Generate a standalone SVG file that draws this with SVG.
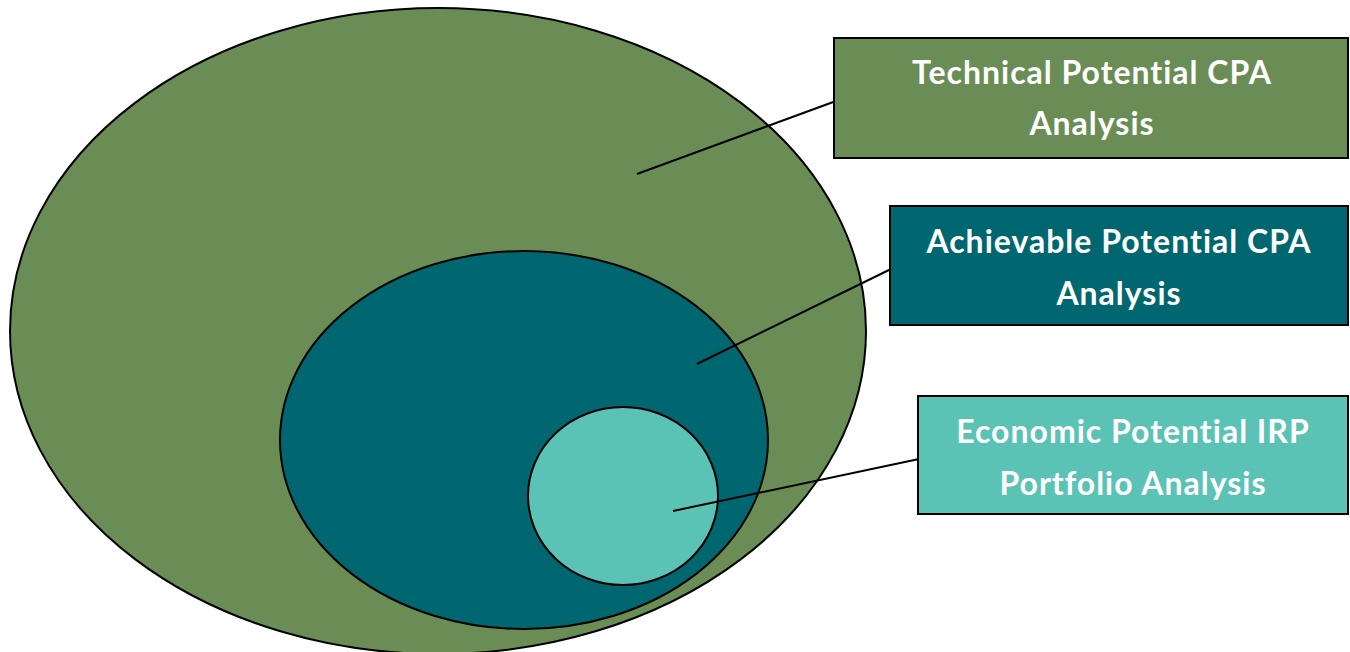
<svg xmlns="http://www.w3.org/2000/svg" width="1350" height="652" viewBox="0 0 1350 652">
<style>
.sh{stroke:#000;stroke-width:2}
.t{font-family:Lato,"Open Sans",sans-serif;font-weight:bold;font-size:32px;letter-spacing:1px;font-variant-ligatures:none;fill:#fff;text-anchor:middle}
.c{stroke:#000;stroke-width:2;fill:none}
.g{fill:#6A8D55}
.d{fill:#006670}
.l{fill:#5BC3B5}
</style>
<rect width="1350" height="652" fill="#fff"/>
<g id="technical-ellipse"><ellipse class="sh g" cx="438" cy="331" rx="428" ry="323"/></g>
<g id="achievable-ellipse"><ellipse class="sh d" cx="524" cy="440" rx="244" ry="189"/></g>
<g id="economic-ellipse"><ellipse class="sh l" cx="623" cy="496" rx="95" ry="89"/></g>
<g id="connectors">
<line class="c" x1="637" y1="174" x2="836" y2="101"/>
<line class="c" x1="697" y1="364" x2="891" y2="269"/>
<line class="c" x1="673" y1="511" x2="919" y2="459"/>
</g>
<g id="technical-box"><rect class="sh g" x="834" y="38" width="514" height="120"/>
<text class="t" x="1092" y="84">Technical Potential CPA</text><text class="t" x="1092" y="135">Analysis</text></g>
<g id="achievable-box"><rect class="sh d" x="890" y="206" width="458" height="119"/>
<text class="t" x="1119" y="253">Achievable Potential CPA</text><text class="t" x="1119" y="305">Analysis</text></g>
<g id="economic-box"><rect class="sh l" x="918" y="396" width="430" height="118"/>
<text class="t" x="1133" y="443">Economic Potential IRP</text><text class="t" x="1133" y="495">Portfolio Analysis</text></g>
</svg>
